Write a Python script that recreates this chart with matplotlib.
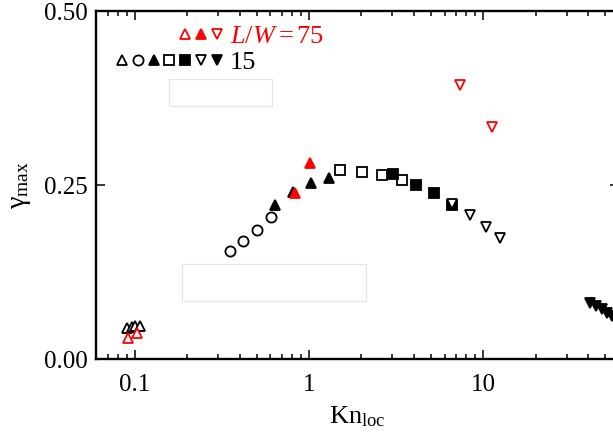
import matplotlib
matplotlib.use("Agg")
import matplotlib.pyplot as plt
from matplotlib.lines import Line2D
from matplotlib.legend_handler import HandlerTuple
from matplotlib.patches import Rectangle
from matplotlib.ticker import FixedLocator, FuncFormatter, LogLocator, NullFormatter

plt.rcParams['font.family'] = ['Liberation Serif', 'DejaVu Serif']
plt.rcParams['mathtext.fontset'] = 'custom'
plt.rcParams['mathtext.rm'] = 'Liberation Serif'
plt.rcParams['mathtext.it'] = 'Liberation Serif:italic'

# ---- data ----
# L/W = 15 (black)
kn_tri_open = [0.090, 0.096, 0.101, 0.107]
g_tri_open = [0.0445, 0.046, 0.047, 0.047]
kn_circ = [0.352, 0.418, 0.503, 0.605]
g_circ = [0.155, 0.170, 0.185, 0.204]
kn_tri_fill = [0.638, 0.81, 1.03, 1.30]
g_tri_fill = [0.221, 0.240, 0.253, 0.260]
kn_sq_open = [1.51, 2.02, 2.63, 3.42]
g_sq_open = [0.2716, 0.269, 0.264, 0.257]
kn_sq_fill = [3.04, 4.12, 5.23, 6.63]
g_sq_fill = [0.266, 0.250, 0.2385, 0.221]
kn_inv_open = [6.63, 8.42, 10.4, 12.4]
g_inv_open = [0.2227, 0.207, 0.190, 0.174]
kn_inv_fill = [40.7, 44.0, 47.7, 50.9, 54.4]
g_inv_fill = [0.0805, 0.076, 0.072, 0.066, 0.062]

# L/W = 75 (red)
kn_r_tri_open = [0.092, 0.103]
g_r_tri_open = [0.030, 0.037]
kn_r_tri_fill = [0.83, 1.01]
g_r_tri_fill = [0.238, 0.282]
kn_r_inv_open = [7.38, 11.2]
g_r_inv_open = [0.394, 0.333]

RED = '#ff0000'
ms = 7.3
mew = 1.3

fig = plt.figure(figsize=(6.13, 4.36), dpi=100)
W, H = 613, 436
ax = fig.add_axes([96 / W, (H - 359) / H, (619 - 96) / W, (359 - 11) / H])

def op(x, y, m, c):
    return ax.plot(x, y, ls='none', marker=m, ms=ms, mfc='white', mec=c, mew=mew, clip_on=False)[0]

def fl(x, y, m, c):
    return ax.plot(x, y, ls='none', marker=m, ms=ms, mfc=c, mec=c, mew=mew, clip_on=False)[0]

h1 = op(kn_tri_open, g_tri_open, '^', 'k')
h2 = op(kn_circ, g_circ, 'o', 'k')
h3 = fl(kn_tri_fill, g_tri_fill, '^', 'k')
h4 = op(kn_sq_open, g_sq_open, 's', 'k')
h5 = fl(kn_sq_fill, g_sq_fill, 's', 'k')
h6 = op(kn_inv_open, g_inv_open, 'v', 'k')
h7 = fl(kn_inv_fill, g_inv_fill, 'v', 'k')
r1 = op(kn_r_tri_open, g_r_tri_open, '^', RED)
r2 = fl(kn_r_tri_fill, g_r_tri_fill, '^', RED)
r3 = op(kn_r_inv_open, g_r_inv_open, 'v', RED)

ax.set_xscale('log')
ax.set_xlim(0.06, 60)
ax.set_ylim(0, 0.5)
ax.xaxis.set_major_locator(FixedLocator([0.1, 1, 10]))
ax.xaxis.set_major_formatter(FuncFormatter(lambda v, p: f'{v:g}'))
ax.xaxis.set_minor_locator(LogLocator(base=10, subs=range(2, 10)))
ax.xaxis.set_minor_formatter(NullFormatter())
ax.set_yticks([0, 0.25, 0.5])
ax.yaxis.set_major_formatter(FuncFormatter(lambda v, p: f'{v:.2f}'))

ax.tick_params(which='both', direction='in', top=True, right=True, labelsize=18, width=1.1)
ax.tick_params(which='major', length=6.5)
ax.tick_params(which='minor', length=3.5)
ax.tick_params(axis='x', which='major', pad=11)
ax.tick_params(axis='y', which='major', pad=6)
for s in ax.spines.values():
    s.set_linewidth(1.7)

ax.set_xlabel('Kn$_{\\rm loc}$', fontsize=19, labelpad=6)
ax.set_ylabel('γ$_{\\rm max}$', fontsize=20, labelpad=8)

blank = Line2D([], [], ls='none')
leg = ax.legend(
    [(blank, blank, blank, blank, r1, r2, r3), (h1, h2, h3, h4, h5, h6, h7)],
    ['$L/W=75$', '15'],
    handler_map={tuple: HandlerTuple(ndivide=None, pad=0)},
    loc='upper left', bbox_to_anchor=(114 / W, 1 - 25 / H), bbox_transform=fig.transFigure,
    frameon=False, borderpad=0, borderaxespad=0, handlelength=4.2, handletextpad=0.2,
    labelspacing=0.08, fontsize=19, labelcolor=[RED, 'k'])

# faint empty boxes present in the original picture
for (x0, y0, x1, y1) in [(169, 79, 272, 106), (182, 264, 366, 301)]:
    fig.patches.append(Rectangle((x0 / W, 1 - y1 / H), (x1 - x0) / W, (y1 - y0) / H,
                                 transform=fig.transFigure, fill=False, ec='#e4e4e4', lw=0.8))

fig.savefig('out.png', dpi=100)
